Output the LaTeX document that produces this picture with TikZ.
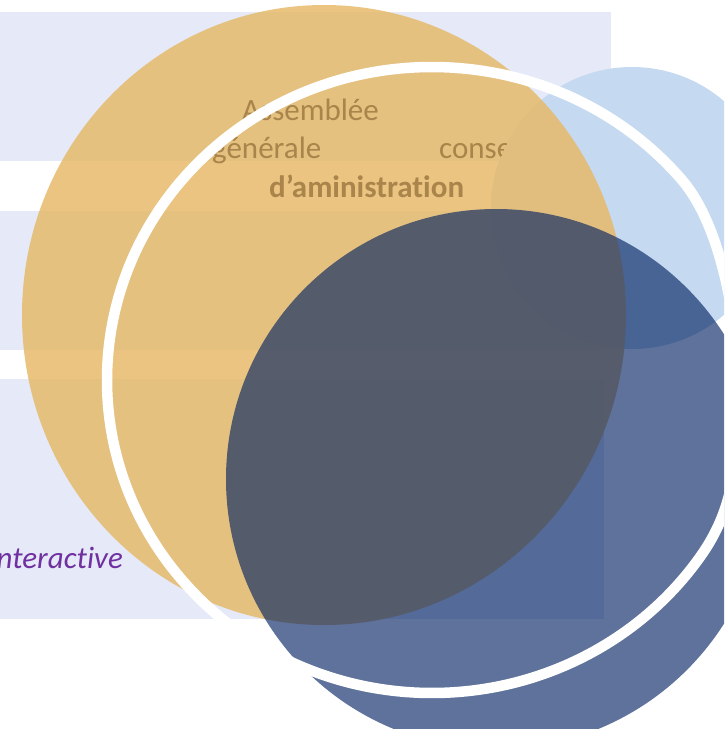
\documentclass[tikz,border=0pt]{standalone}
\usepackage{fontspec}
\setmainfont{Carlito}[Ligatures=NoCommon]
\definecolor{lav}{HTML}{E5E9F8}
\definecolor{lblue}{HTML}{C5D9F1}
\definecolor{orng}{HTML}{E6BA6A}
\definecolor{dblue}{HTML}{002060}
\definecolor{txtbrown}{HTML}{A9844B}
\definecolor{purp}{HTML}{7030A0}
\tikzset{
  band/.style={fill=lav, draw=none},
  word/.style={inner sep=0pt, anchor=base west, text=txtbrown, font=\fontsize{31}{37}\selectfont},
}
\begin{document}
\begin{tikzpicture}[x=1pt, y=-1pt]
\useasboundingbox (0,0) rectangle (724,729);
\clip (0,0) rectangle (724,729);
% background bands
\fill[band] (0,12) rectangle (611,161);
\fill[band] (0,211) rectangle (611,350);
\fill[band] (0,379) rectangle (604,619);
% label on the bottom band
\node[inner sep=0pt, anchor=base east, text=purp, font=\fontsize{31}{37}\selectfont\itshape] (inter) at (123,568) {interact\kern0pt ive};
% light blue circle
\fill[lblue] (632,208) circle (141);
% orange circle
\fill[orng, fill opacity=0.85] (324,315) ellipse [x radius=302, y radius=310];
% texts, hidden by the light blue circle
\begin{scope}[even odd rule]
\clip (0,0) rectangle (724,729) (632,208) circle (141);
\node[word] (assemblee) at (242,120) {Assemblée};
\node[word] (generale) at (212,158) {générale};
\node[word] (conse) at (439,158) {conseil};
\node[word, font=\fontsize{31}{37}\selectfont\bfseries] (admin) at (269,197) {d’aministrat\kern0pt ion};
\end{scope}
% dark blue circle
\fill[dblue, fill opacity=0.63] (496,479) circle (270);
% white ring
\coordinate (rs) at ([shift={(432,380)}]-39.7:325 and 313);
\draw[white, line width=10.5pt]
  (rs) arc[start angle=-39.7, end angle=-325.6, x radius=325, y radius=313]
  .. controls (735,508) and (738,460) .. (738,390)
  .. controls (738,320) and (721,225.5) .. (rs) -- cycle;
\end{tikzpicture}
\end{document}
